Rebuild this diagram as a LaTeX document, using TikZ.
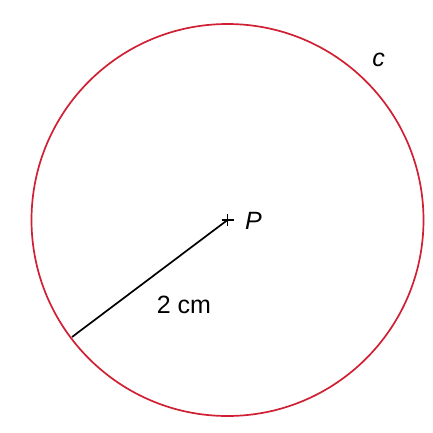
\documentclass[tikz,border=0pt]{standalone}
\usepackage{fontspec}
\setmainfont{Liberation Sans}
\usetikzlibrary{positioning,calc}
\definecolor{circred}{RGB}{208,32,52}

\begin{document}
\begin{tikzpicture}[
    x=1pt, y=-1pt,
    font=\fontsize{25}{30}\selectfont,
    rim/.style={draw=circred, line width=1.7pt},
    radius line/.style={draw=black, line width=1.7pt},
    cross/.style={draw=black, line width=1.5pt},
    lbl/.style={inner sep=0pt}
  ]
  \useasboundingbox (0,0) rectangle (433,432);

  \coordinate (P) at (227.5,220);
  \coordinate (edge) at (72,337);

  \draw[rim] (P) circle[radius=196];
  \draw[radius line] (edge) -- (P);
  \draw[cross] ($(P)+(-6,0)$) -- ($(P)+(6,0)$)
               ($(P)+(0,-6)$) -- ($(P)+(0,6)$);

  \node[lbl, font=\fontsize{25}{30}\selectfont\itshape] (plabel) at (253.5,221) {P};
  \node[lbl] (len) at (184,305) {2 cm};
  \node[lbl, font=\fontsize{25}{30}\selectfont\itshape] (clabel) at (378.5,60) {c};
\end{tikzpicture}
\end{document}
